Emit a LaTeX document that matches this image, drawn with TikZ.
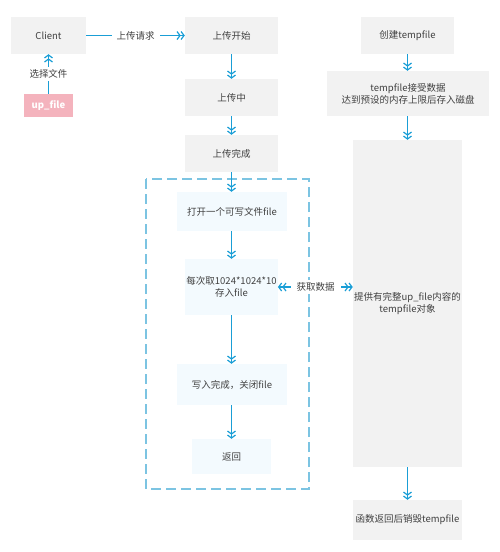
\documentclass[tikz,border=0pt]{standalone}
\usepackage{fontspec}
\newfontfamily\cjk{Noto Sans CJK SC}
\usetikzlibrary{arrows.meta}
\definecolor{acol}{HTML}{1A9ED6}
\definecolor{gfill}{HTML}{F2F2F2}
\definecolor{bfill}{HTML}{F3FAFE}
\definecolor{dcol}{HTML}{7CC4E2}
\definecolor{pfill}{HTML}{F4B3BD}
\definecolor{tcol}{HTML}{404040}
\tikzset{
  every node/.style={font=\cjk\fontsize{9.5}{12}\selectfont, text=tcol, inner sep=0pt, align=center},
  gbox/.style={fill=gfill, draw=none},
  bbox/.style={fill=bfill, draw=none},
  tipx/.tip={Straight Barb[length=3pt,width=8pt,line width=1.2pt]},
  arr/.style={draw=acol, line width=1.3pt, -{tipx[sep=-0.3pt]tipx}},
  darr/.style={draw=acol, line width=1.3pt, {tipx[sep=-0.3pt]tipx}-{tipx[sep=-0.3pt]tipx}},
  lbl/.style={fill=white, inner sep=3pt}
}
\begin{document}
\begin{tikzpicture}[x=1pt,y=-1pt]
\useasboundingbox (0,0) rectangle (500,552);
% dashed container
\draw[dcol, line width=1.2pt, dash pattern=on 10pt off 5pt] (146,179) rectangle (309,489);
% left column
\node[gbox, minimum width=75pt, minimum height=37pt] (client) at (48.5,35.5) {Client};
\node[fill=pfill, minimum width=49pt, minimum height=23pt, text=white, font=\cjk\bfseries\fontsize{9.5}{12}\selectfont] (upfile) at (48.5,105.5) {up\_file};
% middle column
\node[gbox, minimum width=93pt, minimum height=37pt] (start) at (231.5,35.5) {上传开始};
\node[gbox, minimum width=93pt, minimum height=37pt] (mid) at (231.5,97.5) {上传中};
\node[gbox, minimum width=93pt, minimum height=37pt] (done) at (231.5,153.5) {上传完成};
\node[bbox, minimum width=110pt, minimum height=39pt] (open) at (232,211.5) {打开一个可写文件file};
\node[bbox, minimum width=93pt, minimum height=56pt] (each) at (231.5,287) {每次取1024*1024*10\\存入file};
\node[bbox, minimum width=110pt, minimum height=41pt] (write) at (232,384.5) {写入完成，关闭file};
\node[bbox, minimum width=79pt, minimum height=35pt] (ret) at (231.5,456.5) {返回};
% right column
\node[gbox, minimum width=93pt, minimum height=37pt] (create) at (407.5,35.5) {创建tempfile};
\node[gbox, minimum width=162pt, minimum height=45pt] (recv) at (408,93.5) {tempfile接受数据\\达到预设的内存上限后存入磁盘};
\node[gbox, minimum width=109pt, minimum height=327pt] (big) at (407.5,303.5) {提供有完整up\_file内容的\\tempfile对象};
\node[gbox, minimum width=109pt, minimum height=40pt] (destroy) at (407.5,520) {函数返回后销毁tempfile};
% connectors
\draw[arr] (upfile.north) -- node[lbl] {选择文件} (client.south);
\draw[arr] (client.east) -- node[lbl, inner xsep=5pt] {上传请求} (start.west);
\draw[arr] (start.south) -- (mid.north);
\draw[arr] (mid.south) -- (done.north);
\draw[arr] (done.south) -- (done.south |- open.north);
\draw[arr] (open.south -| each.north) -- (each.north);
\draw[arr] (each.south) -- (each.south |- write.north);
\draw[arr] (write.south -| ret.north) -- (ret.north);
\draw[darr] (each.east) -- node[lbl, inner xsep=6pt] {获取数据} (each.east -| big.west);
\draw[arr] (create.south) -- (create.south |- recv.north);
\draw[arr] (recv.south -| big.north) -- (big.north);
\draw[arr] (big.south) -- (destroy.north);
\end{tikzpicture}
\end{document}
